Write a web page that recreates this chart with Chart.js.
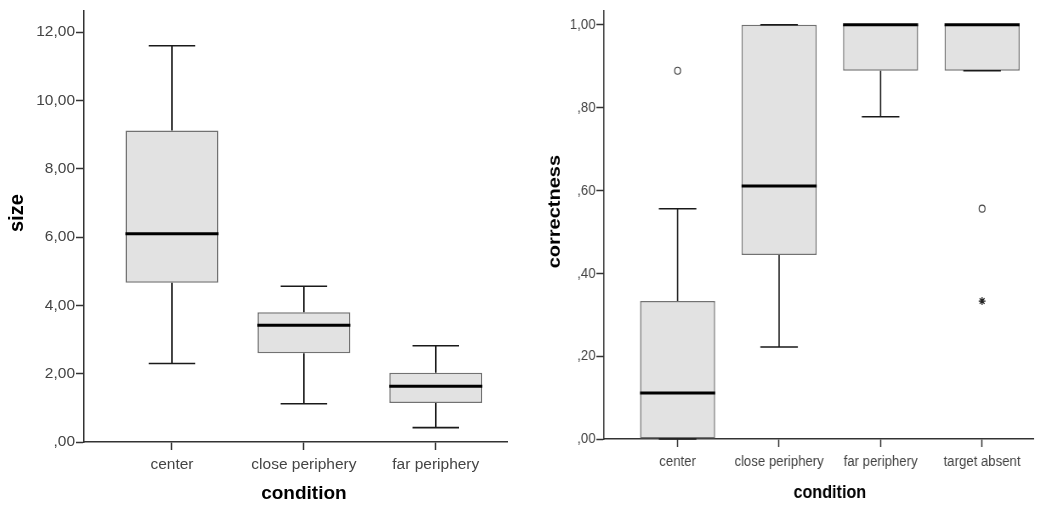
<!DOCTYPE html>
<html>
<head>
<meta charset="utf-8">
<script src="https://cdn.jsdelivr.net/npm/chart.js@4/dist/chart.umd.min.js"></script>
<style>
  html, body { margin: 0; padding: 0; background: #fff; }
  body { width: 1038px; height: 507px; position: relative; overflow: hidden; }
  canvas { position: absolute; top: 0; }
  #sizeChart { left: 0; }
  /* the right panel of the original figure is squeezed horizontally */
  #corrChart { left: 519px; transform: scaleX(0.85); transform-origin: 0 0; }
</style>
</head>
<body>
<canvas id="sizeChart" width="519" height="507"></canvas>
<canvas id="corrChart" width="611" height="507"></canvas>
<script>
// left panel: size by condition
const sizeCategories = ['center', 'close periphery', 'far periphery'];
const sizeMin = [2.30, 1.12, 0.42];
const sizeQ1 = [4.66, 2.60, 1.14];
const sizeMedian = [6.10, 3.42, 1.63];
const sizeQ3 = [9.12, 3.80, 2.03];
const sizeMax = [11.60, 4.56, 2.82];
const sizeTicks = [0, 2, 4, 6, 8, 10, 12];

// right panel: correctness by condition
const corrCategories = ['center', 'close periphery', 'far periphery', 'target absent'];
const corrMin = [0, 0.222, 0.778, 0.889];
const corrQ1 = [0, 0.444, 0.889, 0.889];
const corrMedian = [0.111, 0.611, 1, 1];
const corrQ3 = [0.333, 1, 1, 1];
const corrMax = [0.556, 1, 1, 1];
const corrOutlierCat = [0, 3];
const corrOutlierVal = [0.889, 0.556];
const corrExtremeCat = [3];
const corrExtremeVal = [0.333];
const corrTicks = [0, 0.2, 0.4, 0.6, 0.8, 1.0];

const fmt = v => v.toFixed(2).replace('.', ',').replace(/^0,/, ',');
const FONT = 'Liberation Sans, Arial, sans-serif';

// whiskers, caps, median lines and the axis titles
function boxWhiskers(cfg) {
    const stats = cfg.stats;
    return {
        id: 'boxWhiskers',
        afterDatasetsDraw(chart) {
            const ctx = chart.ctx;
            const xs = chart.scales.x, ys = chart.scales.y;
            const area = chart.chartArea;
            const meta = chart.getDatasetMeta(0);
            const py = v => ys.getPixelForValue(v);
            ctx.save();
            stats.median.forEach((med, i) => {
                const x = xs.getPixelForValue(i);
                const w = meta.data[i].width;
                const c = w / 4;
                ctx.strokeStyle = '#1a1a1a';
                ctx.lineWidth = 1.6;
                ctx.beginPath();
                ctx.moveTo(x, py(stats.q3[i])); ctx.lineTo(x, py(stats.max[i]));
                ctx.moveTo(x, py(stats.q1[i])); ctx.lineTo(x, py(stats.min[i]));
                ctx.moveTo(x - c, py(stats.max[i])); ctx.lineTo(x + c, py(stats.max[i]));
                ctx.moveTo(x - c, py(stats.min[i])); ctx.lineTo(x + c, py(stats.min[i]));
                ctx.stroke();
                ctx.strokeStyle = '#000';
                ctx.lineWidth = 3;
                ctx.beginPath();
                ctx.moveTo(x - w / 2, py(med)); ctx.lineTo(x + w / 2, py(med));
                ctx.stroke();
            });
            ctx.fillStyle = '#000';
            ctx.textAlign = 'center';
            ctx.textBaseline = 'middle';
            ctx.font = 'bold 19px ' + FONT;
            ctx.fillText('condition', xs.getPixelForValue((cfg.labels.length - 1) / 2), xs.bottom - cfg.xTitleOffset);
            ctx.font = 'bold 20px ' + FONT;
            ctx.translate(cfg.yTitleX, (area.top + area.bottom) / 2 - 13);
            ctx.rotate(-Math.PI / 2);
            ctx.fillText(cfg.yTitle, 0, 0);
            ctx.restore();
        }
    };
}

function makeChart(id, cfg) {
    const axisColor = '#333';
    return new Chart(document.getElementById(id), {
        type: 'bar',
        data: {
            datasets: [{
                type: 'bar',
                data: cfg.q1.map((q, i) => ({ x: i, y: [q, cfg.q3[i]] })),
                backgroundColor: '#e2e2e2',
                borderColor: '#727272',
                borderWidth: 1.5,
                borderSkipped: false,
                barPercentage: cfg.barPct,
                categoryPercentage: 1
            }].concat(cfg.points)
        },
        options: {
            responsive: false,
            animation: false,
            events: [],
            layout: { padding: { top: 8, right: cfg.padRight, left: 0, bottom: 0 } },
            plugins: { legend: { display: false }, tooltip: { enabled: false } },
            scales: {
                x: {
                    type: 'linear',
                    offset: false,
                    min: cfg.xMin,
                    max: cfg.xMax,
                    afterBuildTicks: s => { s.ticks = cfg.labels.map((l, i) => ({ value: i })); },
                    afterFit: s => { s.height = cfg.xHeight; },
                    grid: { offset: false, drawOnChartArea: false, drawTicks: true, tickLength: 8, tickColor: axisColor, tickWidth: 1.5 },
                    border: { display: true, color: axisColor, width: 1.5 },
                    ticks: {
                        callback: v => cfg.labels[v],
                        maxRotation: 0,
                        autoSkip: false,
                        padding: 5,
                        color: '#444',
                        font: { family: FONT, size: 15.5 }
                    }
                },
                y: {
                    min: 0,
                    max: cfg.yMax,
                    afterBuildTicks: s => { s.ticks = cfg.yTicks.map(v => ({ value: v })); },
                    afterFit: s => { s.width = cfg.yWidth; },
                    grid: { drawOnChartArea: false, drawTicks: true, tickLength: cfg.yTickLen, tickColor: axisColor, tickWidth: 1.5 },
                    border: { display: true, color: axisColor, width: 1.5 },
                    ticks: {
                        callback: v => fmt(v),
                        padding: 1,
                        color: '#444',
                        font: { family: FONT, size: 15.5 }
                    }
                }
            }
        },
        plugins: [boxWhiskers(cfg)]
    });
}

makeChart('sizeChart', {
    labels: sizeCategories,
    q1: sizeQ1, q3: sizeQ3,
    stats: { min: sizeMin, q1: sizeQ1, median: sizeMedian, q3: sizeQ3, max: sizeMax },
    points: [],
    barPct: 0.705,
    xMin: -0.667, xMax: 2.54,
    yMax: 12.64, yTicks: sizeTicks,
    yWidth: 84, xHeight: 65, padRight: 12, yTickLen: 8,
    yTitle: 'size', yTitleX: 17, xTitleOffset: 13
});

makeChart('corrChart', {
    labels: corrCategories,
    q1: corrQ1, q3: corrQ3,
    stats: { min: corrMin, q1: corrQ1, median: corrMedian, q3: corrQ3, max: corrMax },
    points: [{
        type: 'scatter',
        data: corrOutlierCat.map((c, i) => ({ x: c, y: corrOutlierVal[i] })),
        pointStyle: 'circle',
        radius: 3.5,
        backgroundColor: 'rgba(0,0,0,0)',
        borderColor: '#444',
        borderWidth: 1.2
    }, {
        type: 'scatter',
        data: corrExtremeCat.map((c, i) => ({ x: c, y: corrExtremeVal[i] })),
        pointStyle: 'star',
        radius: 4,
        borderColor: '#222',
        borderWidth: 1.3
    }],
    barPct: 0.74,
    xMin: -0.725, xMax: 3.51,
    yMax: 1.035, yTicks: corrTicks,
    yWidth: 100, xHeight: 68, padRight: 0, yTickLen: 9,
    yTitle: 'correctness', yTitleX: 42, xTitleOffset: 14
});
</script>
</body>
</html>
